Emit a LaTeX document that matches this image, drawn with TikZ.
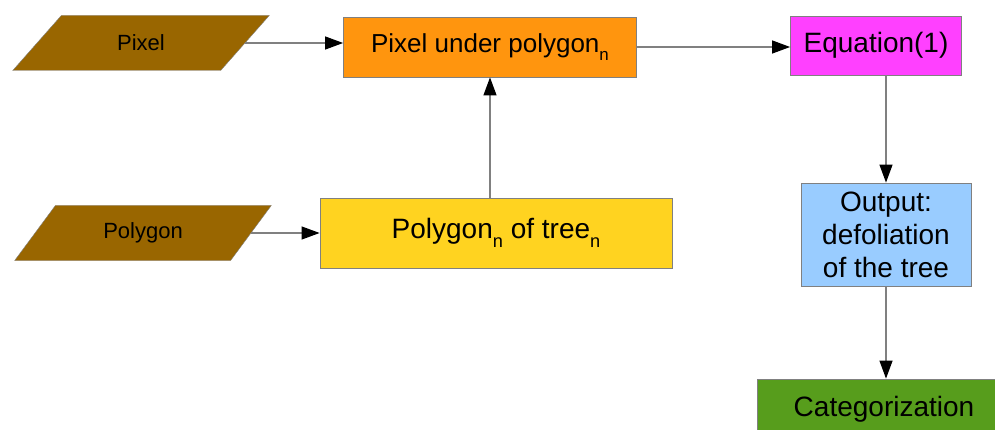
\documentclass[tikz,border=0pt]{standalone}
\usepackage{fontspec}
\setmainfont{Liberation Sans}
\usetikzlibrary{shapes.geometric,arrows.meta}
\definecolor{brownin}{HTML}{996600}
\definecolor{orangebox}{HTML}{FF950E}
\definecolor{yellowbox}{HTML}{FFD320}
\definecolor{magentabox}{HTML}{FF40FF}
\definecolor{bluebox}{HTML}{99CCFF}
\definecolor{greenbox}{HTML}{579D1C}
\newcommand{\subn}{\raisebox{-0.3em}{\scalebox{0.65}{n}}}
\begin{document}
\begin{tikzpicture}[x=1pt, y=-1pt,
        inputbox/.style={draw=gray, fill=brownin, trapezium, trapezium stretches=true,
            trapezium left angle=48, trapezium right angle=132,
            minimum width=257pt, minimum height=55pt, inner sep=0pt,
            font=\fontsize{22}{26}\selectfont},
        procbox/.style={draw=gray, line width=0.8pt, inner sep=0pt, align=center,
            font=\fontsize{28}{33}\selectfont},
        flow/.style={draw=gray, line width=1.2pt, -{Triangle[length=18pt, width=13pt, color=black]}}]
    \useasboundingbox (0, 0) rectangle (995, 430);

    \node[inputbox] at (141, 43)  (pixel)   {Pixel};
    \node[inputbox] at (143, 233) (polygon) {Polygon};

    \node[procbox, fill=orangebox, minimum width=293pt, minimum height=60pt,
        font=\fontsize{26}{30}\selectfont] at (490, 47) (under) {Pixel under polygon\subn};
    \node[procbox, fill=yellowbox, minimum width=352pt, minimum height=70pt]
        at (496, 233) (tree) {Polygon\subn\ of tree\subn};
    \node[procbox, fill=magentabox, minimum width=171pt, minimum height=59pt]
        at (876, 45.5) (equation) {Equation(1)};
    \node[procbox, fill=bluebox, minimum width=170pt, minimum height=103pt]
        at (886, 234.5) (output) {Output:\\defoliation\\of the tree};
    \node[procbox, fill=greenbox, minimum width=254pt, minimum height=60pt]
        at (884, 409) (category) {Categorization};

    \draw[flow] (pixel.east) -- (pixel.east -| under.west);
    \draw[flow] (polygon.east) -- (polygon.east -| tree.west);
    \draw[flow] (tree.north -| under.south) -- (under.south);
    \draw[flow] (under.east) -- (under.east -| equation.west);
    \draw[flow] (output.north |- equation.south) -- (output.north);
    \draw[flow] (output.south) -- (output.south |- category.north);
\end{tikzpicture}
\end{document}
